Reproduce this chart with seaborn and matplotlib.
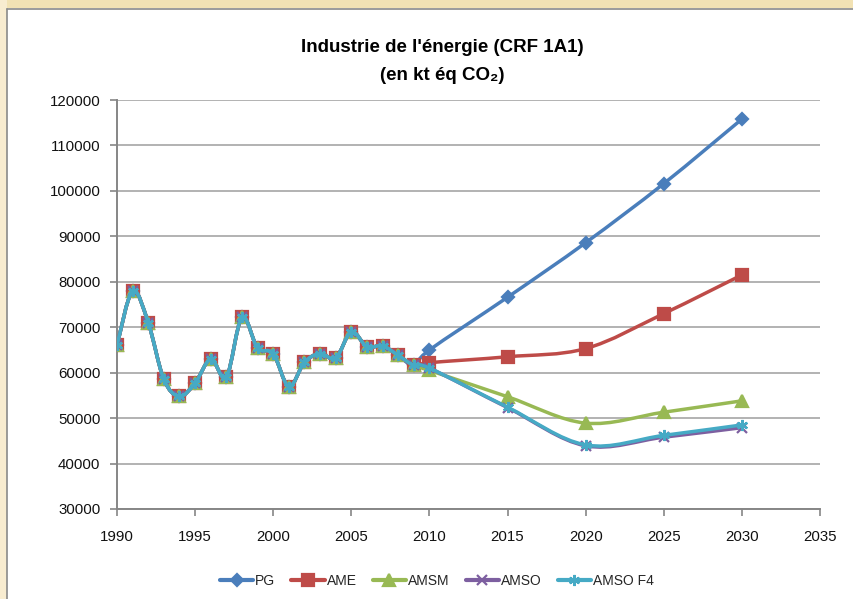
import matplotlib
matplotlib.use("Agg")
import matplotlib.pyplot as plt
import matplotlib.ticker as mticker
from matplotlib.patches import Rectangle, PathPatch
from matplotlib.path import Path
from matplotlib.lines import Line2D
import seaborn as sns
import pandas as pd
import numpy as np

# ---- data ----
hist_years = list(range(1990, 2010))
hist_values = [66000, 78000, 71000, 58500, 54800, 57700, 63000, 59000, 72200, 65400,
               64200, 56900, 62300, 64200, 63200, 69000, 65700, 65900, 63800, 61600]
proj_years = [2010, 2015, 2020, 2025, 2030]
pg = [65000, 76600, 88600, 101600, 115800]
ame = [62200, 63500, 65300, 73000, 81500]
amsm = [60500, 54700, 48900, 51300, 53800]
amso = [61000, 52300, 43900, 45800, 47900]
amso_f4 = [61000, 52400, 44100, 46200, 48500]

series_names = ["PG", "AME", "AMSM", "AMSO", "AMSO F4"]
series_proj = [pg, ame, amsm, amso, amso_f4]
colors = ["#4a7ebb", "#be4b48", "#98b954", "#7d5fa0", "#46aac5"]
markers = ["D", "s", "^", "x", (6, 2, 0)]
msizes = [6.5, 8, 8.5, 7, 8]

x_ticks = list(range(1990, 2036, 5))
y_ticks = list(range(30000, 120001, 10000))

rows = []
for name, proj in zip(series_names, series_proj):
    for yr, v in zip(hist_years + proj_years, hist_values + proj):
        rows.append({"series": name, "year": yr, "value": v})
df = pd.DataFrame(rows)


def smooth_path(xs, ys):
    """Excel-like smoothed line: cubic Bezier through the data points."""
    p = np.column_stack([xs, ys]).astype(float)
    n = len(p)
    verts = [p[0]]
    codes = [Path.MOVETO]
    for i in range(n - 1):
        p0 = p[i - 1] if i > 0 else p[i]
        p1, p2 = p[i], p[i + 1]
        p3 = p[i + 2] if i + 2 < n else p[i + 1]
        c1 = p1 + (p2 - p0) / 6.0
        c2 = p2 - (p3 - p1) / 6.0
        verts += [c1, c2, p2]
        codes += [Path.CURVE4] * 3
    return Path(verts, codes)


sns.set_theme(style="white")
plt.rcParams["font.family"] = ["Liberation Sans", "DejaVu Sans"]

fig = plt.figure(figsize=(8.54, 5.99), dpi=100)
fig.patch.set_facecolor("white")

# page decoration (beige margins and border)
fig.patches.append(Rectangle((0, 1 - 8 / 599), 1, 8 / 599, transform=fig.transFigure,
                             facecolor="#f2e2b4", edgecolor="none", zorder=0))
fig.patches.append(Rectangle((0, 0), 7 / 854, 1, transform=fig.transFigure,
                             facecolor="#f8ecd0", edgecolor="none", zorder=0))
fig.lines.append(Line2D([7.5 / 854, 1], [1 - 9 / 599, 1 - 9 / 599], transform=fig.transFigure,
                        color="#8a8a8a", lw=1.2))
fig.lines.append(Line2D([7.5 / 854, 7.5 / 854], [0, 1 - 9 / 599], transform=fig.transFigure,
                        color="#8a8a8a", lw=1.2))

ax = fig.add_axes([117 / 854, 1 - 509 / 599, (820 - 117) / 854, (509 - 100) / 599])
ax.set_facecolor("white")

for k, (name, c, m, ms) in enumerate(zip(series_names, colors, markers, msizes)):
    sub = df[df["series"] == name]
    # markers via seaborn
    sns.lineplot(data=sub, x="year", y="value", ax=ax, color=c, linestyle="",
                 marker=m, markersize=ms, markeredgecolor=c, markerfacecolor=c,
                 mew=1.6, legend=False, zorder=4 + 2 * k)
    # smoothed connecting line
    ax.add_patch(PathPatch(smooth_path(sub["year"].values, sub["value"].values),
                           facecolor="none", edgecolor=c, lw=2.5, zorder=3 + 2 * k,
                           capstyle="round", joinstyle="round"))

ax.set_xlim(1990, 2035)
ax.set_ylim(30000, 120000)
ax.set_xticks(x_ticks)
ax.set_yticks(y_ticks)
ax.yaxis.set_major_formatter(mticker.FuncFormatter(lambda v, p: f"{v:.0f}"))
ax.set_xlabel("")
ax.set_ylabel("")

ax.grid(axis="y", color="#a6a6a6", lw=1.2)
ax.grid(axis="x", visible=False)
ax.set_axisbelow(True)
for s in ["top", "right"]:
    ax.spines[s].set_visible(False)
for s in ["left", "bottom"]:
    ax.spines[s].set_color("#868686")
    ax.spines[s].set_linewidth(1.4)
ax.tick_params(axis="both", which="major", length=5, width=1.2, color="#868686",
               labelsize=10.8, labelcolor="#111111")
ax.tick_params(axis="y", left=True, pad=7)
ax.tick_params(axis="x", bottom=True, pad=10)

title_font = dict(ha="center", va="center", fontsize=13.5, fontweight="bold", color="black",
                  family=["Liberation Sans", "DejaVu Sans"])
fig.text(442 / 854, 1 - 47 / 599, "Industrie de l'énergie (CRF 1A1)", **title_font)
fig.text(442 / 854, 1 - 75 / 599, "(en kt éq CO₂)", **title_font)

handles = [Line2D([], [], color=c, lw=3, marker=m, markersize=ms, markeredgecolor=c,
                  markerfacecolor=c, mew=1.6) for c, m, ms in zip(colors, markers, msizes)]
fig.legend(handles, series_names, loc="center", bbox_to_anchor=(437 / 854, 1 - 581 / 599),
           ncol=5, frameon=False, handlelength=2.4, handletextpad=0.15, columnspacing=1.15,
           prop={"family": ["Liberation Sans", "DejaVu Sans"], "size": 10})

fig.savefig("out.png", dpi=100, facecolor=fig.get_facecolor())
